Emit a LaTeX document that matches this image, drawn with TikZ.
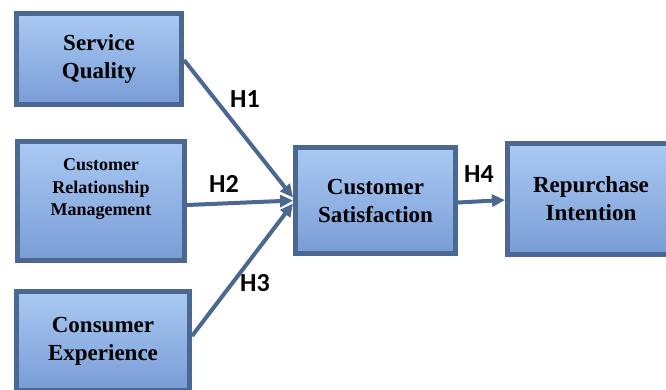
\documentclass[tikz,border=0pt]{standalone}
\usepackage{fontspec}
\setmainfont{Liberation Serif}
\newfontfamily\hfont{Carlito}
\usetikzlibrary{arrows.meta}
\definecolor{bordc}{RGB}{74,104,145}
\definecolor{filltop}{RGB}{170,202,243}
\definecolor{fillbot}{RGB}{121,156,214}
\tikzset{
  boxnode/.style={draw=bordc, line width=5pt, top color=filltop, bottom color=fillbot,
    align=center, inner sep=0pt, font=\fontsize{23}{28}\selectfont\bfseries},
  conn/.style={draw=bordc, line width=4pt, -{Triangle[length=13pt,width=12pt]}},
  hlab/.style={font=\hfont\fontsize{26}{30}\selectfont\bfseries, text=black, inner sep=0pt}
}
\begin{document}
\begin{tikzpicture}[x=1pt,y=-1pt]
\useasboundingbox (0,0) rectangle (666,389);
\clip (0,0) rectangle (666,389);
\node[boxnode, minimum width=165pt, minimum height=91pt] (sq) at (99,59) {Service\\Quality};
\node[boxnode, minimum width=167pt, minimum height=119pt] (crm) at (101,201) {};
\node[align=center, inner sep=0pt, font=\fontsize{18}{22.5}\selectfont\bfseries] (crmtext) at (101,189.5) {Customer\\Relationship\\Management};
\node[boxnode, minimum width=173pt, minimum height=99pt] (ce) at (103,341) {Consumer\\Experience};
\node[boxnode, minimum width=160pt, minimum height=106pt] (cs) at (375.5,200.5) {Customer\\Satisfaction};
\node[boxnode, minimum width=167pt, minimum height=111pt] (ri) at (591,199) {Repurchase\\Intention};
\draw[conn] ([yshift=-1pt]sq.east) -- ([yshift=3pt]cs.west);
\draw[conn] ([yshift=-4pt]crm.east) -- (cs.west);
\draw[conn] ([yshift=5pt]ce.east) -- ([yshift=-3pt]cs.west);
\draw[conn] ([yshift=-2pt]cs.east) -- ([yshift=-1pt]ri.west);
\node[hlab] (h1) at (245,99) {H1};
\node[hlab] (h2) at (224,184) {H2};
\node[hlab] (h3) at (255,283) {H3};
\node[hlab] (h4) at (479,174) {H4};
\end{tikzpicture}
\end{document}
